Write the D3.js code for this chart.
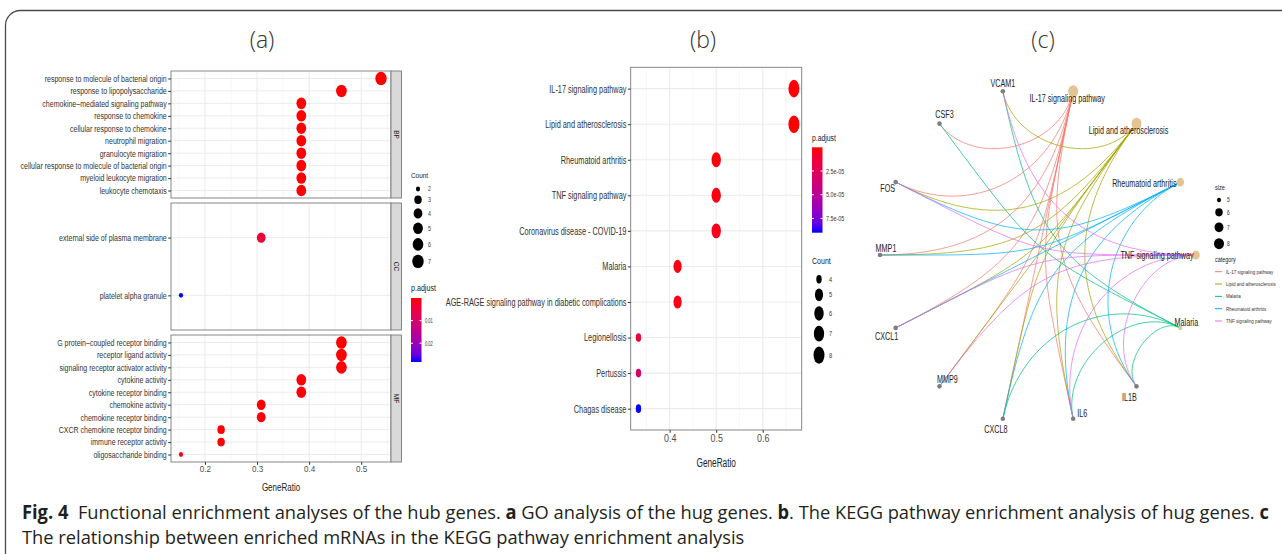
<!DOCTYPE html>
<html>
<head>
<meta charset="utf-8">
<script src="https://cdn.jsdelivr.net/npm/d3@7"></script>
<style>
  body { margin: 0; background: #fff; }
  text { font-family: "Liberation Sans", Arial, sans-serif; }
  text.title, text.caption { font-family: "Open Sans", "Noto Sans", sans-serif; }
</style>
</head>
<body>
<svg id="fig" width="1282" height="554"></svg>
<script>
// ---------- panel (a): GO enrichment ----------
const bpTerms = ["response to molecule of bacterial origin", "response to lipopolysaccharide",
    "chemokine\u2013mediated signaling pathway", "response to chemokine", "cellular response to chemokine",
    "neutrophil migration", "granulocyte migration", "cellular response to molecule of bacterial origin",
    "myeloid leukocyte migration", "leukocyte chemotaxis"];
const bpRatio = [0.538, 0.462, 0.385, 0.385, 0.385, 0.385, 0.385, 0.385, 0.385, 0.385];
const bpCount = [7, 6, 5, 5, 5, 5, 5, 5, 5, 5];
const bpPadj = [2.0e-6, 4.5e-6, 5.0e-5, 5.0e-5, 5.2e-5, 8.0e-5, 1.1e-4, 1.3e-4, 1.5e-4, 1.8e-4];

const ccTerms = ["external side of plasma membrane", "platelet alpha granule"];
const ccRatio = [0.308, 0.154];
const ccCount = [4, 2];
const ccPadj = [0.0045, 0.0283];

const mfTerms = ["G protein\u2013coupled receptor binding", "receptor ligand activity",
    "signaling receptor activator activity", "cytokine activity", "cytokine receptor binding",
    "chemokine activity", "chemokine receptor binding", "CXCR chemokine receptor binding",
    "immune receptor activity", "oligosaccharide binding"];
const mfRatio = [0.462, 0.462, 0.462, 0.385, 0.385, 0.308, 0.308, 0.231, 0.231, 0.154];
const mfCount = [6, 6, 6, 5, 5, 4, 4, 3, 3, 2];
const mfPadj = [3e-5, 4e-5, 6e-5, 4e-4, 4e-4, 2e-4, 3e-4, 1e-4, 1.2e-4, 1.1e-3];

const xTicksA = [0.2, 0.3, 0.4, 0.5];
const countBreaksA = [2, 3, 4, 5, 6, 7];
const padjBreaksA = [0.01, 0.02];

// ---------- panel (b): KEGG enrichment ----------
const keggTerms = ["IL-17 signaling pathway", "Lipid and atherosclerosis", "Rheumatoid arthritis",
    "TNF signaling pathway", "Coronavirus disease - COVID-19", "Malaria",
    "AGE-RAGE signaling pathway in diabetic complications", "Legionellosis", "Pertussis", "Chagas disease"];
const keggRatio = [0.667, 0.667, 0.5, 0.5, 0.5, 0.417, 0.417, 0.333, 0.333, 0.333];
const keggCount = [8, 8, 6, 6, 6, 5, 5, 4, 4, 4];
const keggPadj = [1.0e-7, 1.6e-7, 1.8e-6, 2.6e-6, 4.5e-6, 3.2e-6, 3.6e-6, 1.4e-5, 3.4e-5, 9.0e-5];

const xTicksB = [0.4, 0.5, 0.6];
const countBreaksB = [4, 5, 6, 7, 8];
const padjBreaksB = [2.5e-5, 5.0e-5, 7.5e-5];

// ---------- panel (c): gene-pathway network ----------
const netOrder = ["TNF signaling pathway", "Rheumatoid arthritis", "Lipid and atherosclerosis",
    "IL-17 signaling pathway", "VCAM1", "CSF3", "FOS", "MMP1", "CXCL1", "MMP9", "CXCL8", "IL6", "IL1B", "Malaria"];
const netPathways = ["IL-17 signaling pathway", "Lipid and atherosclerosis", "Malaria",
    "Rheumatoid arthritis", "TNF signaling pathway"];
const genesIL17 = ["CSF3", "FOS", "MMP1", "CXCL1", "MMP9", "CXCL8", "IL6", "IL1B"];
const genesLipid = ["VCAM1", "FOS", "MMP1", "CXCL1", "MMP9", "CXCL8", "IL6", "IL1B"];
const genesMalaria = ["VCAM1", "CSF3", "CXCL8", "IL6", "IL1B"];
const genesRA = ["FOS", "MMP1", "CXCL1", "CXCL8", "IL6", "IL1B"];
const genesTNF = ["VCAM1", "FOS", "CXCL1", "MMP9", "IL6", "IL1B"];
const pathwaySize = [8, 8, 5, 6, 6];
const sizeBreaksC = [5, 6, 7, 8];

// ---------------------------------------------------------------
const svg = d3.select("#fig");
const padjColor = ext => d3.scaleLinear().domain(ext).range(["#ff0000", "#0000ff"]).interpolate(d3.interpolateLab);
const expand = ext => { const d = (ext[1] - ext[0]) * 0.05; return [ext[0] - d, ext[1] + d]; };
const sciFmt = v => d3.format(".1e")(v).replace(/e([-+])(\d)$/, "e$10$2");

// text squeezed horizontally, like the reference figure
function label(g, x, y, str, size, sx, anchor, fill) {
    return g.append("text")
        .attr("transform", `translate(${x},${y}) scale(${sx},1)`)
        .attr("text-anchor", anchor || "start")
        .attr("dy", "0.35em")
        .attr("font-size", size)
        .attr("fill", fill || "#333")
        .text(str);
}

function styleAxis(a, size, sx, fill) {
    a.attr("font-size", size).attr("font-family", null);
    a.select(".domain").remove();
    a.selectAll(".tick line").attr("stroke", "#333");
    a.selectAll(".tick text").attr("fill", fill).each(function () {
        const t = d3.select(this);
        t.attr("x", (+t.attr("x") || 0) / sx).attr("transform", `scale(${sx},1)`);
    });
}

function sizeScale(ext, r0, r1) {
    const norm = d3.scaleLinear().domain(ext).range([0, 1]);
    const rad = d3.scaleLinear().domain([0, 1]).range([r0, r1]);
    return c => rad(Math.sqrt(norm(c)));
}

function colorbar(g, id, color, x, y0, y1, breaks, fmt, fs, sx) {
    const dom = color.domain();
    const grad = svg.append("defs").append("linearGradient").attr("id", id)
        .attr("x1", 0).attr("y1", 0).attr("x2", 0).attr("y2", 1);
    d3.range(0, 1.0001, 0.1).forEach(t => {
        grad.append("stop").attr("offset", t).attr("stop-color", color(dom[0] + t * (dom[1] - dom[0])));
    });
    g.append("rect").attr("x", x).attr("y", y0).attr("width", 10.5).attr("height", y1 - y0)
        .attr("fill", `url(#${id})`);
    const yb = d3.scaleLinear().domain(dom).range([y0, y1]);
    breaks.forEach(b => {
        g.append("line").attr("x1", x).attr("x2", x + 2).attr("y1", yb(b)).attr("y2", yb(b)).attr("stroke", "#fff");
        g.append("line").attr("x1", x + 8.5).attr("x2", x + 10.5).attr("y1", yb(b)).attr("y2", yb(b)).attr("stroke", "#fff");
        label(g, x + 14, yb(b), fmt(b), fs, sx, "start", "#333");
    });
}

function sizeLegend(g, x, yStart, breaks, rfun, aspect, gap, fs, sx, labelX) {
    let y = yStart, prev = null;
    breaks.forEach(b => {
        const ry = rfun(b) * aspect;
        if (prev !== null) y += prev + ry + gap;
        g.append("ellipse").attr("cx", x).attr("cy", y).attr("rx", rfun(b)).attr("ry", ry).attr("fill", "#000");
        label(g, labelX, y, String(b), fs, sx, "start", "#333");
        prev = ry;
    });
}

// outer frame
svg.append("rect").attr("x", 5.5).attr("y", 10.5).attr("width", 1320).attr("height", 620)
    .attr("rx", 15).attr("fill", "none").attr("stroke", "#4a4a4a").attr("stroke-width", 1.3);

// panel titles
[["(a)", 262], ["(b)", 703], ["(c)", 1043]].forEach(([t, x]) => {
    svg.append("text").attr("class", "title").attr("x", x).attr("y", 40).attr("dy", "0.35em")
        .attr("text-anchor", "middle").attr("font-size", 23).attr("font-weight", 300)
        .attr("fill", "#333").text(t);
});

// ================= panel (a) =================
const gA = svg.append("g");
const facetsA = [
    { name: "BP", terms: bpTerms, ratio: bpRatio, count: bpCount, p: bpPadj },
    { name: "CC", terms: ccTerms, ratio: ccRatio, count: ccCount, p: ccPadj },
    { name: "MF", terms: mfTerms, ratio: mfRatio, count: mfCount, p: mfPadj }
];
const leftA = 171, rightA = 391, facetTops = [71, 203, 335], facetH = 127;
const xA = d3.scaleLinear().domain(expand(d3.extent(facetsA.flatMap(f => f.ratio)))).range([leftA, rightA]);
const colA = padjColor(d3.extent(facetsA.flatMap(f => f.p)));
const rA = sizeScale(d3.extent(facetsA.flatMap(f => f.count)), 2.1, 5.7);
const minorA = xTicksA.map(v => v - 0.05).concat([xTicksA[xTicksA.length - 1] + 0.05])
    .filter(v => v > xA.domain()[0] && v < xA.domain()[1]);

facetsA.forEach((f, fi) => {
    const top = facetTops[fi], bot = top + facetH;
    const y = d3.scalePoint().domain(f.terms).range([top, bot]).padding(0.6);
    const g = gA.append("g");
    g.append("rect").attr("x", leftA).attr("y", top).attr("width", rightA - leftA).attr("height", facetH).attr("fill", "#fff");
    g.selectAll(".minor").data(minorA).enter().append("line")
        .attr("x1", d => xA(d)).attr("x2", d => xA(d)).attr("y1", top).attr("y2", bot)
        .attr("stroke", "#f2f2f2").attr("stroke-width", 0.6);
    g.selectAll(".major").data(xTicksA).enter().append("line")
        .attr("x1", d => xA(d)).attr("x2", d => xA(d)).attr("y1", top).attr("y2", bot)
        .attr("stroke", "#ebebeb").attr("stroke-width", 1);
    g.selectAll(".hgrid").data(f.terms).enter().append("line")
        .attr("x1", leftA).attr("x2", rightA).attr("y1", d => y(d)).attr("y2", d => y(d))
        .attr("stroke", "#ebebeb").attr("stroke-width", 1);
    g.selectAll(".dot").data(f.terms).enter().append("ellipse")
        .attr("cx", (d, i) => xA(f.ratio[i])).attr("cy", d => y(d))
        .attr("rx", (d, i) => rA(f.count[i])).attr("ry", (d, i) => rA(f.count[i]) * 1.18)
        .attr("fill", (d, i) => colA(f.p[i]));
    g.append("rect").attr("x", leftA).attr("y", top).attr("width", rightA - leftA).attr("height", facetH)
        .attr("fill", "none").attr("stroke", "#7a7a7a").attr("stroke-width", 0.9);
    // strip
    g.append("rect").attr("x", rightA).attr("y", top).attr("width", 10.5).attr("height", facetH)
        .attr("fill", "#d9d9d9").attr("stroke", "#7a7a7a").attr("stroke-width", 0.9);
    g.append("text").attr("transform", `translate(${rightA + 5.25},${top + facetH / 2}) rotate(90)`)
        .attr("text-anchor", "middle").attr("dy", "0.35em").attr("font-size", 6.5).attr("fill", "#1a1a1a")
        .text(f.name);
    g.append("g").attr("transform", `translate(${leftA},0)`)
        .call(d3.axisLeft(y).tickSize(2.8).tickPadding(1.5))
        .call(a => styleAxis(a, 9, 0.78, "#333"));
    if (fi === facetsA.length - 1) {
        g.append("g").attr("transform", `translate(0,${bot})`)
            .call(d3.axisBottom(xA).tickValues(xTicksA).tickFormat(d3.format(".1f")).tickSize(2.8).tickPadding(1.5))
            .call(a => styleAxis(a, 8.5, 0.95, "#4d4d4d"));
    }
});
label(gA, (leftA + rightA) / 2, 487, "GeneRatio", 10, 0.8, "middle", "#222");

// legends (a)
label(gA, 411, 175, "Count", 8, 0.8, "start", "#222");
sizeLegend(gA, 418, 189, countBreaksA, rA, 1.18, 4, 6.5, 0.8, 428);
label(gA, 411, 288, "p.adjust", 8.5, 0.84, "start", "#222");
colorbar(gA, "gradA", colA, 411, 298, 362, padjBreaksA, d3.format(".2f"), 6.5, 0.62);

// ================= panel (b) =================
const gB = svg.append("g");
const leftB = 630.7, rightB = 801.7, topB = 67.3, botB = 430;
const xB = d3.scaleLinear().domain(expand(d3.extent(keggRatio))).range([leftB, rightB]);
const yB = d3.scalePoint().domain(keggTerms).range([topB, botB]).padding(0.6);
const colB = padjColor(d3.extent(keggPadj));
const rB = sizeScale(d3.extent(keggCount), 2.7, 5.5);
const minorB = xTicksB.map(v => v - 0.05).concat([xTicksB[xTicksB.length - 1] + 0.05])
    .filter(v => v > xB.domain()[0] && v < xB.domain()[1]);

gB.selectAll(".minor").data(minorB).enter().append("line")
    .attr("x1", d => xB(d)).attr("x2", d => xB(d)).attr("y1", topB).attr("y2", botB)
    .attr("stroke", "#f2f2f2").attr("stroke-width", 0.6);
gB.selectAll(".major").data(xTicksB).enter().append("line")
    .attr("x1", d => xB(d)).attr("x2", d => xB(d)).attr("y1", topB).attr("y2", botB)
    .attr("stroke", "#ebebeb").attr("stroke-width", 1.1);
gB.selectAll(".hgrid").data(keggTerms).enter().append("line")
    .attr("x1", leftB).attr("x2", rightB).attr("y1", d => yB(d)).attr("y2", d => yB(d))
    .attr("stroke", "#ebebeb").attr("stroke-width", 1.1);
gB.selectAll(".dot").data(keggTerms).enter().append("ellipse")
    .attr("cx", (d, i) => xB(keggRatio[i])).attr("cy", d => yB(d))
    .attr("rx", (d, i) => rB(keggCount[i])).attr("ry", (d, i) => rB(keggCount[i]) * 1.6)
    .attr("fill", (d, i) => colB(keggPadj[i]));
gB.append("rect").attr("x", leftB).attr("y", topB).attr("width", rightB - leftB).attr("height", botB - topB)
    .attr("fill", "none").attr("stroke", "#7a7a7a").attr("stroke-width", 0.9);
gB.append("g").attr("transform", `translate(${leftB},0)`)
    .call(d3.axisLeft(yB).tickSize(2.8).tickPadding(1.5))
    .call(a => styleAxis(a, 10.5, 0.7, "#333"));
gB.append("g").attr("transform", `translate(0,${botB})`)
    .call(d3.axisBottom(xB).tickValues(xTicksB).tickFormat(d3.format(".1f")).tickSize(2.8).tickPadding(2))
    .call(a => styleAxis(a, 10.5, 0.85, "#4d4d4d"));
label(gB, (leftB + rightB) / 2, 463, "GeneRatio", 12.5, 0.66, "middle", "#222");

// legends (b)
label(gB, 812, 138, "p.adjust", 9.5, 0.72, "start", "#222");
colorbar(gB, "gradB", colB, 812, 147.3, 232.7, padjBreaksB, sciFmt, 7.5, 0.72);
label(gB, 812, 261, "Count", 9.5, 0.74, "start", "#222");
sizeLegend(gB, 819, 279.3, countBreaksB, rB, 1.55, 5, 7.5, 0.75, 829);

// ================= panel (c) =================
const gC = svg.append("g");
const pathwayGenes = [genesIL17, genesLipid, genesMalaria, genesRA, genesTNF];
const catColors = ["#F8766D", "#A3A500", "#00BF7D", "#00B0F6", "#E76BF3"];
const nodeIndex = new Map(netOrder.map((d, i) => [d, i]));
const angle = d3.scaleLinear().domain([0, netOrder.length]).range([0, 2 * Math.PI]);
const xN = d3.scaleLinear().domain([-1, 1]).range([880, 1196]);
const yN = d3.scaleLinear().domain([-1, 1]).range([423, 87]);
const rC = sizeScale(d3.extent(sizeBreaksC), 2, 5);

function arcPath(a, b) {
    const ta = angle(nodeIndex.get(a)), tb = angle(nodeIndex.get(b));
    let d = Math.abs(ta - tb);
    if (d > Math.PI) d = 2 * Math.PI - d;
    const s = 0.175 * d / angle(1);
    const p0 = [Math.cos(ta), Math.sin(ta)], p3 = [Math.cos(tb), Math.sin(tb)];
    const p1 = p0.map(v => v * (1 - s)), p2 = p3.map(v => v * (1 - s));
    const path = d3.path();
    path.moveTo(xN(p0[0]), yN(p0[1]));
    path.bezierCurveTo(xN(p1[0]), yN(p1[1]), xN(p2[0]), yN(p2[1]), xN(p3[0]), yN(p3[1]));
    return path.toString();
}

const edges = netPathways.flatMap((p, ci) => pathwayGenes[ci].map(gn => ({ p, gn, ci })));
gC.selectAll(".edge").data(edges).enter().append("path")
    .attr("d", d => arcPath(d.p, d.gn))
    .attr("fill", "none").attr("stroke", d => catColors[d.ci])
    .attr("stroke-width", 0.9).attr("stroke-opacity", 0.8);

const nodeX = n => xN(Math.cos(angle(nodeIndex.get(n))));
const nodeY = n => yN(Math.sin(angle(nodeIndex.get(n))));
const labelNudge = {
    "VCAM1": [0, -7.5], "CSF3": [5, -9], "FOS": [-8, 6], "MMP1": [6, -6.5], "CXCL1": [-9, 9],
    "MMP9": [8, -7], "CXCL8": [-7, 11], "IL6": [9, -5], "IL1B": [-7, 11],
    "IL-17 signaling pathway": [-6, 7], "Lipid and atherosclerosis": [-8, 7],
    "Rheumatoid arthritis": [-36, 1], "TNF signaling pathway": [-39, 0], "Malaria": [6, -5]
};
netOrder.forEach(n => {
    const ci = netPathways.indexOf(n);
    if (ci >= 0) {
        const r = rC(pathwaySize[ci]);
        gC.append("ellipse").attr("cx", nodeX(n)).attr("cy", nodeY(n)).attr("rx", r).attr("ry", r * 1.2)
            .attr("fill", "#E5C494");
    } else {
        gC.append("circle").attr("cx", nodeX(n)).attr("cy", nodeY(n)).attr("r", 2.3).attr("fill", "#7f7f7f");
    }
});
netOrder.forEach(n => {
    const [dx, dy] = labelNudge[n];
    label(gC, nodeX(n) + dx, nodeY(n) + dy, n, 10, 0.72, "middle", "#222");
});

// legends (c)
label(gC, 1215, 187, "size", 7.5, 0.75, "start", "#222");
sizeLegend(gC, 1219, 200, sizeBreaksC, rC, 1.1, 6, 6.5, 0.75, 1227);
label(gC, 1215, 259, "category", 7.5, 0.72, "start", "#222");
const yCat = d3.scalePoint().domain(netPathways).range([271.7, 321]);
netPathways.forEach((p, i) => {
    gC.append("line").attr("x1", 1215).attr("x2", 1222).attr("y1", yCat(p)).attr("y2", yCat(p))
        .attr("stroke", catColors[i]).attr("stroke-width", 1);
    label(gC, 1226, yCat(p), p, 6, 0.75, "start", "#333");
});

// ================= caption =================
const cap1 = svg.append("text").attr("class", "caption").attr("x", 0).attr("y", 0)
    .attr("font-size", 19).attr("fill", "#231f20").attr("xml:space", "preserve");
[["Fig. 4", true], ["  Functional enrichment analyses of the hub genes. ", false], ["a", true],
 [" GO analysis of the hug genes. ", false], ["b", true],
 [". The KEGG pathway enrichment analysis of hug genes. ", false], ["c", true]].forEach(([t, b]) => {
    cap1.append("tspan").attr("font-weight", b ? 700 : 400).text(t);
});
const capSx = (1270 - 22) / cap1.node().getComputedTextLength();
cap1.attr("transform", `translate(22,519) scale(${capSx},1)`);
svg.append("text").attr("class", "caption").attr("transform", `translate(22,544) scale(${capSx},1)`)
    .attr("font-size", 19).attr("fill", "#231f20")
    .text("The relationship between enriched mRNAs in the KEGG pathway enrichment analysis");
</script>
</body>
</html>
